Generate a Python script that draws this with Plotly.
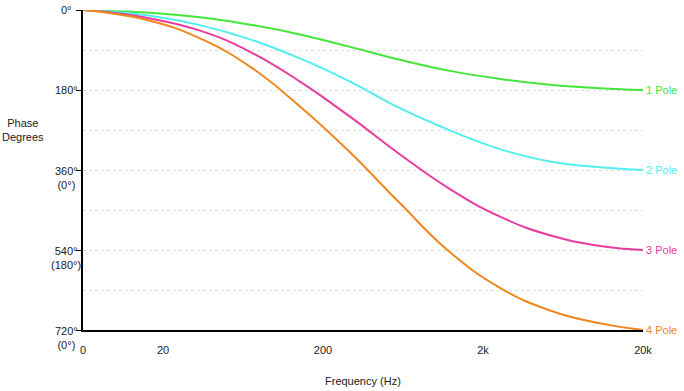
import math
import plotly.graph_objects as go

# Frequencies (Hz) sampled along the log axis; first point is the "0" position of the axis
freqs = [6.3246, 8.08, 16.6, 34.1, 70.0, 143.6, 295, 606, 1244, 2555, 5245, 10770, 20000]
pole1 = [0, 1.5, 6, 16.5, 33, 55, 83, 112, 137, 155, 168, 176, 180]
pole2 = [0, 2, 13, 34, 66, 109, 161, 221, 271, 313, 341, 354, 360]
pole3 = [0, 3, 19, 46.5, 94, 161, 240, 325, 403, 465, 507, 531, 540]
pole4 = [0, 4, 24, 64, 127.5, 217, 320, 435, 545, 625, 676, 705, 720]

series_names = ["1 Pole", "2 Pole", "3 Pole", "4 Pole"]
series_colors = ["#45e63c", "#52eef0", "#e83c9c", "#f0861e"]

x_tickvals = [6.3246, 20, 200, 2000, 20000]
x_ticktext = ["0", "20", "200", "2k", "20k"]

y_tickvals = [0, 180, 360, 540, 720]
y_ticktext = ["0°", "180°", "360°<br>(0°)", "540°<br>(180°)", "720°<br>(0°)"]

FONT = "Liberation Sans, Arial, Helvetica, sans-serif"

fig = go.Figure()
for name, vals, col in zip(series_names, [pole1, pole2, pole3, pole4], series_colors):
    fig.add_trace(go.Scatter(
        x=freqs, y=vals, mode="lines", name=name,
        line=dict(color=col, width=2, shape="spline", smoothing=1.3),
        showlegend=False, hoverinfo="skip",
    ))
    fig.add_annotation(
        x=1, xref="paper", y=vals[-1], yref="y",
        text=name, showarrow=False, xanchor="left", yanchor="middle",
        xshift=1, font=dict(family=FONT, size=11, color=col),
    )

# y tick labels as centered text blocks left of the axis
for v, t in zip(y_tickvals, y_ticktext):
    two = "<br>" in t
    fig.add_annotation(
        x=-17 / 560, xref="paper", y=v, yref="y",
        text=t, showarrow=False, xanchor="center",
        yanchor="top" if two else "middle",
        yshift=7 if two else 0, align="center",
        font=dict(family=FONT, size=11, color="#222"),
    )

# axis titles
fig.add_annotation(
    x=-60 / 560, xref="paper", y=270, yref="y",
    text="Phase<br>Degrees", showarrow=False, xanchor="center", yanchor="middle",
    align="center", font=dict(family=FONT, size=11, color="#222"),
)
fig.add_annotation(
    x=0.5, xref="paper", y=-51 / 320, yref="paper",
    text="Frequency (Hz)", showarrow=False, xanchor="center", yanchor="middle",
    font=dict(family=FONT, size=11, color="#222"),
)

fig.update_layout(
    width=684, height=391,
    margin=dict(l=83, r=41, t=10, b=61),
    plot_bgcolor="white", paper_bgcolor="white",
    font=dict(family=FONT, size=11, color="#222"),
)
fig.update_xaxes(
    type="log",
    range=[math.log10(x_tickvals[0]) - 1e-6, math.log10(20000) + 1e-6],
    tickvals=x_tickvals, ticktext=x_ticktext,
    showgrid=False, zeroline=False,
    showline=True, linecolor="black", linewidth=1.5,
    ticks="outside", ticklen=9, tickcolor="rgba(0,0,0,0)",
    tickfont=dict(family=FONT, size=11, color="#222"),
)
fig.update_yaxes(
    range=[720, 0],
    tickvals=y_tickvals, showticklabels=False,
    ticks="outside", ticklen=5, tickcolor="black", tickwidth=1,
    showgrid=True, gridcolor="#dddddd", griddash="dot", gridwidth=1,
    minor=dict(dtick=90, tick0=0, showgrid=True, gridcolor="#dddddd", griddash="dot", ticks=""),
    zeroline=False,
    showline=True, linecolor="black", linewidth=1.5,
)

fig.write_html(
    "out.html",
    config={"displayModeBar": False},
    post_script="document.body.style.margin='0';document.body.style.padding='0';",
)
